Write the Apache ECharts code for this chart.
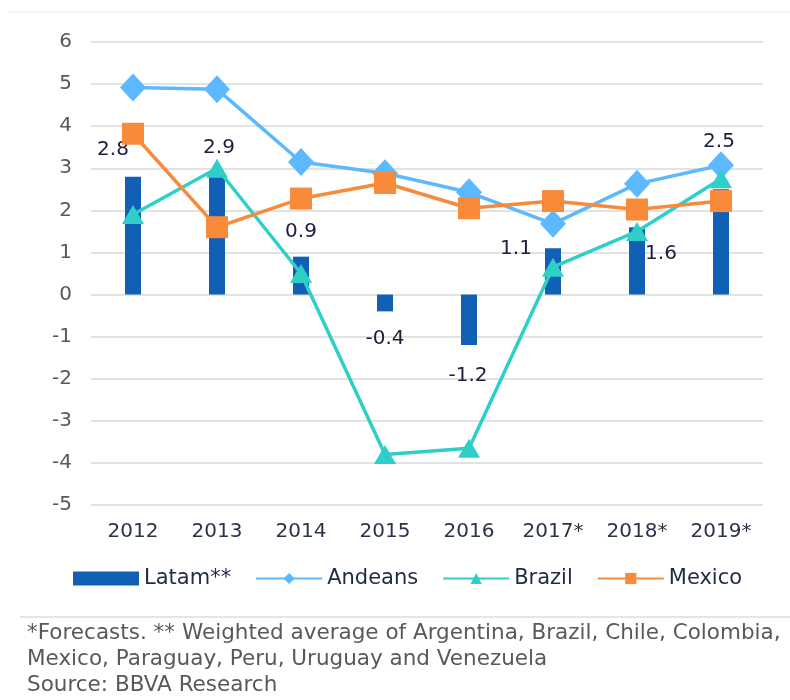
<!DOCTYPE html>
<html>
<head>
<meta charset="utf-8">
<script src="https://cdn.jsdelivr.net/npm/echarts@6/dist/echarts.min.js"></script>
<title>charts</title>
<style>
  body { margin: 0; background: #fff; }
  #main { width: 790px; height: 700px; }
</style>
</head>
<body>
<div id="main"></div>
<script type="text/javascript">

    var years = ['2012', '2013', '2014', '2015', '2016', '2017*', '2018*', '2019*'];
    var latam = [2.8, 2.9, 0.9, -0.4, -1.2, 1.1, 1.6, 2.5];
    var andeans = [4.92, 4.88, 3.15, 2.88, 2.43, 1.68, 2.63, 3.07];
    var brazil = [1.9, 3.0, 0.5, -3.8, -3.65, 0.65, 1.5, 2.75];
    var mexico = [3.82, 1.6, 2.28, 2.65, 2.05, 2.22, 2.02, 2.22];

    // where each Latam label sits, nudged from the bar end (Excel placed them by hand)
    var labelShift = [[-20, -12], [2, -10], [0, -10], [0, 12], [-1, 16], [-37, 16], [24, 42], [-2, -33]];

    var latamData = latam.map(function (v, i) {
        return {
            value: v,
            label: {
                position: v < 0 ? 'bottom' : 'top',
                offset: labelShift[i]
            }
        };
    });

    var font = 'DejaVu Sans, Liberation Sans, Arial, sans-serif';
    var myChart = echarts.init(document.getElementById('main'));

    var option = {
        animation: false,
        textStyle: { fontFamily: font },
        grid: { left: 91, right: 27, top: 42, bottom: 195 },
        legend: {
            left: 68,
            top: 563,
            itemWidth: 66,
            itemHeight: 14,
            itemGap: 24,
            textStyle: { fontSize: 21, color: '#1f2a44' },
            data: [
                { name: 'Latam**', icon: 'rect' },
                'Andeans', 'Brazil', 'Mexico'
            ]
        },
        xAxis: {
            type: 'category',
            data: years,
            axisLine: { show: false },
            axisTick: { show: false },
            axisLabel: { fontSize: 20, color: '#2b3348', margin: 17 }
        },
        yAxis: {
            type: 'value',
            min: -5,
            max: 6,
            interval: 1,
            axisLabel: { fontSize: 20, color: '#595959', margin: 19 },
            splitLine: { lineStyle: { color: '#d9d9d9', width: 1.5 } }
        },
        graphic: [
            { type: 'line', shape: { x1: 8, y1: 12, x2: 790, y2: 12 }, style: { stroke: '#eeeeee', lineWidth: 1.5 } },
            { type: 'line', shape: { x1: 20, y1: 617, x2: 790, y2: 617 }, style: { stroke: '#dddddd', lineWidth: 1.5 } },
            {
                type: 'text', left: 27, top: 620,
                style: {
                    text: '*Forecasts. ** Weighted average of Argentina, Brazil, Chile, Colombia,\nMexico, Paraguay, Peru, Uruguay and Venezuela\nSource: BBVA Research',
                    font: '21.5px ' + font,
                    fill: '#595959',
                    lineHeight: 26
                }
            }
        ],
        series: [
            {
                name: 'Latam**',
                type: 'bar',
                barWidth: 16,
                itemStyle: { color: '#1260b6' },
                label: { show: true, fontSize: 20, color: '#1b1f3b' },
                data: latamData
            },
            {
                name: 'Andeans',
                type: 'line',
                symbol: 'diamond',
                symbolSize: [26, 28],
                lineStyle: { color: '#5cb9ff', width: 3.5 },
                itemStyle: { color: '#5cb9ff' },
                data: andeans
            },
            {
                name: 'Brazil',
                type: 'line',
                symbol: 'triangle',
                symbolSize: [22, 19],
                lineStyle: { color: '#2ecfc9', width: 3.5 },
                itemStyle: { color: '#2ecfc9' },
                data: brazil
            },
            {
                name: 'Mexico',
                type: 'line',
                symbol: 'rect',
                symbolSize: 22,
                lineStyle: { color: '#f78b3a', width: 3.5 },
                itemStyle: { color: '#f78b3a' },
                data: mexico
            }
        ]
    };
    myChart.setOption(option);

</script>
</body>
</html>
